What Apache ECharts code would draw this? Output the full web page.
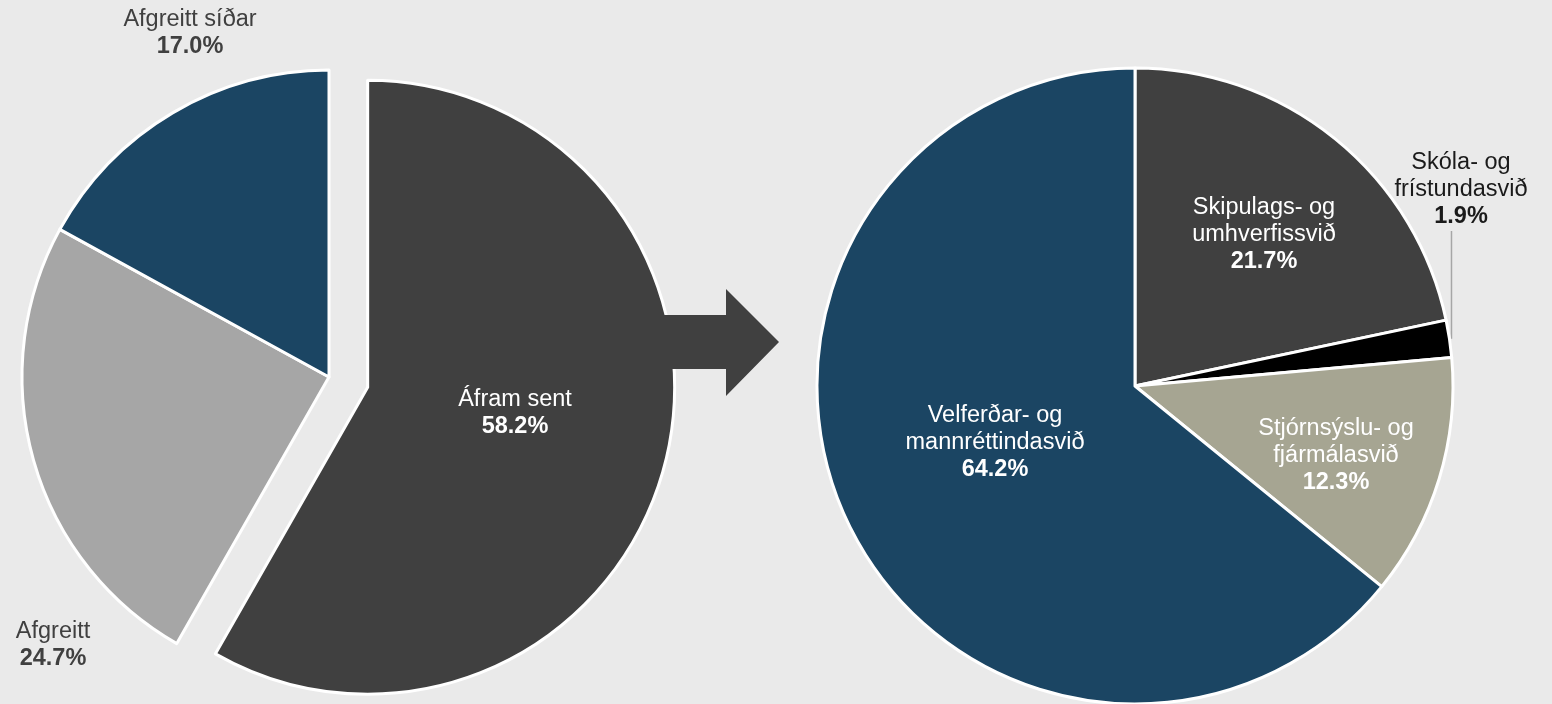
<!DOCTYPE html>
<html><head><meta charset="utf-8">
<script src="https://cdn.jsdelivr.net/npm/echarts@6/dist/echarts.min.js"></script>
<style>html,body{margin:0;padding:0;background:#eaeaea}#c{width:1552px;height:704px}</style>
</head><body><div id="c"></div>
<script>
// ---- data ----
const leftNames = ['Áfram sent', 'Afgreitt', 'Afgreitt síðar'];
const leftValues = [58.2, 24.7, 17.0];
const rightNames = ['Skipulags- og umhverfissvið', 'Skóla- og frístundasvið', 'Stjórnsýslu- og fjármálasvið', 'Velferðar- og mannréttindasvið'];
const rightValues = [21.7, 1.9, 12.3, 64.2];

// ---- styles ----
const leftColors = ['#404040', '#a6a6a6', '#1b4563'];
const rightColors = ['#404040', '#000000', '#a6a592', '#1b4563'];
const leftLabelColors = ['#ffffff', '#404040', '#404040'];
const rightLabelColors = ['#ffffff', '#1a1a1a', '#ffffff', '#ffffff'];
const leftInside = [true, false, false];
const rightInside = [true, false, true, true];
const leftLabelSpots = [[515, 413], [53, 645], [190, 33]];
const rightLabelSpots = [[1264, 235], [1461, 190], [1336, 456], [995, 443]];
const FONT = '"Liberation Sans", Arial, sans-serif';
const LEFT_CENTER = [329, 377];
const EXPLODE = 40;   // px offset of the exploded slice
const EXPLODED_INDEX = 0;

const rich = {
  n: { fontFamily: FONT, fontSize: 23.5, lineHeight: 27, align: 'center' },
  b: { fontFamily: FONT, fontSize: 23.5, lineHeight: 27, fontWeight: 'bold', align: 'center' }
};
function fmt(p) {
  return '{n|' + p.name.replace('- og ', '- og\n') + '}\n{b|' + p.value.toFixed(1) + '%}';
}

function buildData(names, values, colors, labelColors, inside, visible) {
  return names.map((n, i) => {
    const vis = visible ? visible(i) : true;
    return {
      name: n,
      value: values[i],
      itemStyle: vis ? { color: colors[i] } : { color: 'rgba(0,0,0,0)', borderWidth: 0 },
      label: { show: vis, position: inside[i] ? 'inside' : 'outside', color: labelColors[i] },
      labelLine: { show: false }
    };
  });
}

// exploded slice offset, from its mid angle (clockwise from 12 o'clock)
const leftTotal = leftValues.reduce((a, b) => a + b, 0);
let before = 0;
for (let i = 0; i < EXPLODED_INDEX; i++) before += leftValues[i];
const midAngle = (before + leftValues[EXPLODED_INDEX] / 2) / leftTotal * Math.PI * 2;
const explodedCenter = [LEFT_CENTER[0] + EXPLODE * Math.sin(midAngle), LEFT_CENTER[1] - EXPLODE * Math.cos(midAngle)];

const rightData = buildData(rightNames, rightValues, rightColors, rightLabelColors, rightInside);
rightData[1].labelLine = { show: true, lineStyle: { color: '#a6a6a6', width: 1.5 } };

const leftBase = {
  type: 'pie',
  radius: 307,
  startAngle: 90,
  clockwise: true,
  avoidLabelOverlap: false,
  silent: true,
  itemStyle: { borderColor: '#ffffff', borderWidth: 3 },
  label: { show: true, formatter: fmt, rich: rich, fontFamily: FONT, fontSize: 23.5 },
  labelLine: { show: false },
  labelLayout: function (p) {
    const s = leftLabelSpots[p.dataIndex];
    return { x: s[0], y: s[1], align: 'center', verticalAlign: 'middle' };
  }
};

const chart = echarts.init(document.getElementById('c'), null, { renderer: 'canvas' });
chart.setOption({
  backgroundColor: '#eaeaea',
  animation: false,
  series: [
    Object.assign({}, leftBase, {
      center: LEFT_CENTER,
      data: buildData(leftNames, leftValues, leftColors, leftLabelColors, leftInside, i => i !== EXPLODED_INDEX)
    }),
    Object.assign({}, leftBase, {
      center: explodedCenter,
      data: buildData(leftNames, leftValues, leftColors, leftLabelColors, leftInside, i => i === EXPLODED_INDEX)
    }),
    {
      type: 'pie',
      center: [1135, 386],
      radius: 318,
      startAngle: 90,
      clockwise: true,
      avoidLabelOverlap: false,
      silent: true,
      itemStyle: { borderColor: '#ffffff', borderWidth: 3 },
      label: { show: true, formatter: fmt, rich: rich, fontFamily: FONT, fontSize: 23.5 },
      data: rightData,
      labelLayout: function (p) {
        const s = rightLabelSpots[p.dataIndex];
        const out = { x: s[0], y: s[1], align: 'center', verticalAlign: 'middle' };
        if (p.dataIndex === 1 && p.labelLinePoints && p.labelLinePoints.length) {
          const p0 = p.labelLinePoints[0];
          out.labelLinePoints = [[p0[0] + 2, p0[1]], [p0[0] + 2, s[1] + 41]];
        }
        return out;
      }
    }
  ],
  graphic: [{
    type: 'polygon',
    z: 100,
    shape: { points: [[630, 315], [726, 315], [726, 289], [779, 342], [726, 396], [726, 369], [630, 369]] },
    style: { fill: '#404040' }
  }]
});
</script>
</body></html>
